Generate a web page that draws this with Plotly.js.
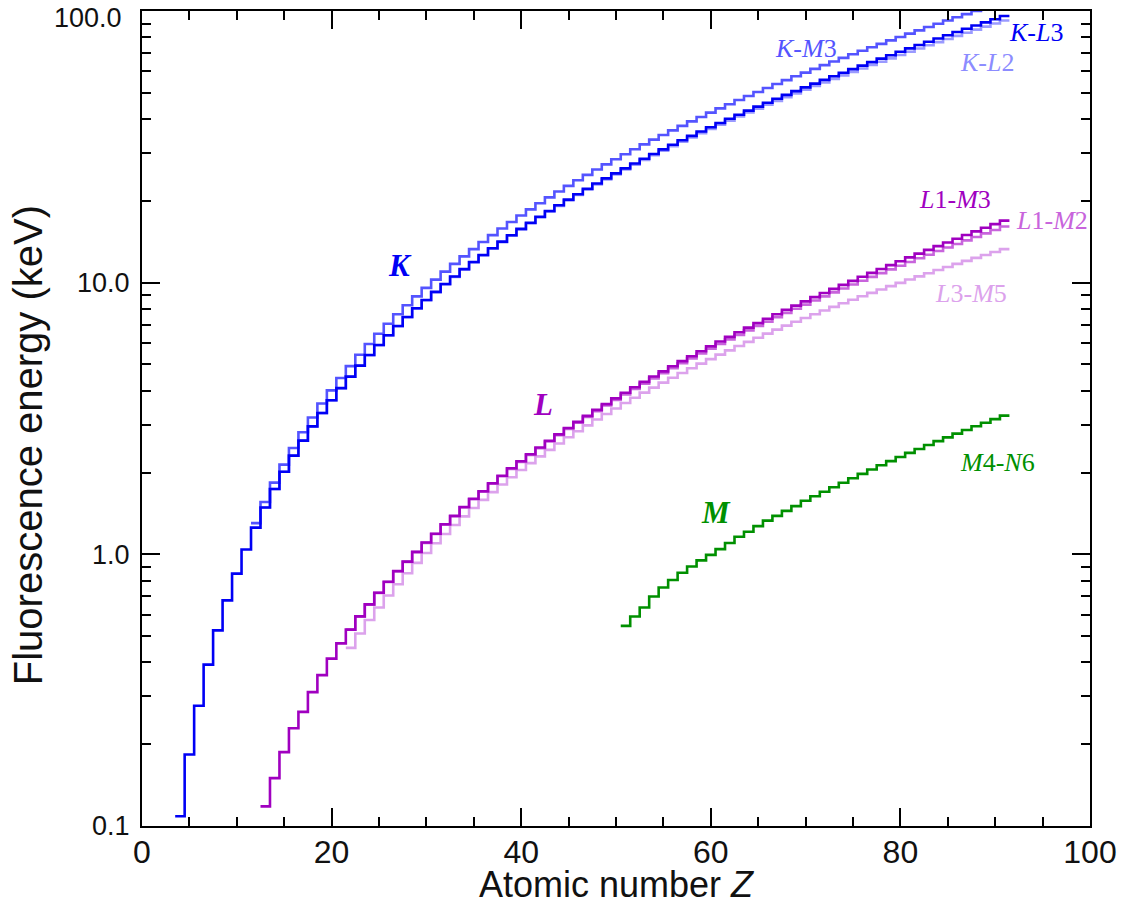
<!DOCTYPE html>
<html>
<head>
<meta charset="utf-8">
<script src="https://cdn.plot.ly/plotly-3.0.1.min.js"></script>
<style>
html,body{margin:0;padding:0;background:#fff;}
#chart{width:1121px;height:907px;}
</style>
</head>
<body>
<div id="chart"></div>
<script>
// ---- Data: fluorescence line energies (keV) versus atomic number Z ----
// Each series starts at its first atomic number and has one value per Z.
var zStartKL3 = 4;
var energyKL3 = [0.1085,0.1833,0.277,0.3924,0.5249,0.6768,0.8486,1.041,1.2536,1.4867,
  1.740,2.0137,2.3078,2.6224,2.9577,3.3138,3.6917,4.0906,4.5108,4.9522,
  5.4147,5.8988,6.4038,6.9303,7.4782,8.0478,8.6389,9.2517,9.8864,10.5437,
  11.2224,11.9242,12.649,13.3953,14.165,14.9584,15.7751,16.6151,17.4793,18.3671,
  19.2792,20.2161,21.1771,22.1629,23.1736,24.2097,25.2713,26.3591,27.4723,28.612,
  29.779,30.9728,32.1936,33.4418,34.7197,36.0263,37.361,38.7247,40.1181,41.5422,
  42.9962,44.4816,45.9984,47.5467,49.1277,50.7416,52.3889,54.0698,55.7902,57.532,
  59.3182,61.1403,63.0005,64.8956,66.832,68.8037,70.819,72.8715,74.9694,77.1079,
  79.29,81.52,83.78,86.10,88.47,90.884,93.35,95.868];

var zStartKL2 = 13;
var energyKL2 = [1.4863,1.7394,2.0127,2.3066,2.6208,2.9556,3.3111,3.6881,4.0861,4.5049,
  4.9446,5.4055,5.8877,6.3908,6.9153,7.4609,8.0278,8.6158,9.2248,9.8553,
  10.508,11.1814,11.8776,12.598,13.3358,14.0979,14.8829,15.6909,16.521,17.3743,
  18.2508,19.1504,20.0737,21.0201,21.9903,22.9841,24.002,25.044,26.1108,27.2017,
  28.3172,29.458,30.6251,31.8171,33.0341,34.2789,35.5502,36.8474,38.1712,39.5224,
  40.9019,42.3089,43.7441,45.2078,46.6997,48.2211,49.7726,51.354,52.965,54.6114,
  56.277,57.9817,59.7179,61.4867,63.2867,65.112,66.9895,68.895,70.8319,72.8042,
  74.8148,76.862,78.95,81.07,83.23,85.43,87.67,89.953,92.287];

var zStartKM3 = 12;
var energyKM3 = [1.3022,1.5575,1.8359,2.1391,2.464,2.8156,3.1905,3.5896,4.0127,4.4605,
  4.9318,5.4273,5.9467,6.4905,7.058,7.6494,8.2647,8.9053,9.572,10.2642,
  10.9821,11.7262,12.4959,13.2914,14.112,14.9613,15.8357,16.7378,17.6678,18.6225,
  19.6083,20.619,21.6568,22.7236,23.8187,24.9424,26.0955,27.2759,28.486,29.7256,
  30.9957,32.2947,33.624,34.9869,36.3782,37.801,39.2573,40.7484,42.2713,43.826,
  45.413,47.0379,48.697,50.382,52.119,53.877,55.681,57.517,59.37,61.283,
  63.234,65.223,67.2443,69.31,71.413,73.5608,75.748,77.984,80.253,82.576,
  84.936,87.343,89.80,92.30,94.87,97.47,100.13,102.85,105.609,108.427];

var zStartL1M3 = 13;
var energyL1M3 = [0.118,0.150,0.187,0.229,0.263,0.311,0.359,0.413,0.470,0.528,
  0.591,0.654,0.722,0.792,0.867,0.940,1.021,1.105,1.191,1.290,
  1.385,1.494,1.601,1.707,1.827,1.947,2.074,2.202,2.335,2.472,
  2.618,2.763,2.916,3.073,3.234,3.402,3.573,3.750,3.932,4.120,
  4.313,4.512,4.717,4.927,5.143,5.363,5.593,5.829,6.071,6.317,
  6.571,6.831,7.097,7.370,7.653,7.940,8.231,8.537,8.847,9.163,
  9.488,9.819,10.159,10.511,10.868,11.234,11.610,11.992,12.390,12.794,
  13.211,13.638,14.067,14.511,14.976,15.445,15.931,16.426,16.931];

var zStartL1M2 = 22;
var energyL1M2 = [0.528,0.591,0.653,0.721,0.791,0.866,0.938,1.019,1.102,1.188,
  1.286,1.381,1.489,1.595,1.700,1.819,1.938,2.064,2.190,2.322,
  2.457,2.601,2.744,2.895,3.050,3.202,3.366,3.532,3.704,3.881,
  4.064,4.251,4.443,4.642,4.845,5.053,5.266,5.487,5.715,5.947,
  6.184,6.427,6.677,6.932,7.192,7.463,7.737,8.015,8.306,8.601,
  8.902,9.210,9.524,9.843,10.172,10.505,10.847,11.196,11.552,11.922,
  12.296,12.681,13.076,13.472,13.881,14.310,14.739,15.185,15.639,16.101];

var zStartL3M5 = 22;
var energyL3M5 = [0.4522,0.5113,0.5728,0.6374,0.705,0.7762,0.8515,0.9297,1.0117,1.0979,
  1.188,1.282,1.3791,1.4804,1.586,1.6941,1.8066,1.9226,2.0424,2.1659,
  2.2932,2.424,2.5585,2.6967,2.8386,2.9843,3.1337,3.2869,3.4439,3.6047,
  3.7694,3.9376,4.1099,4.2865,4.4663,4.651,4.8402,5.0337,5.2304,5.4325,
  5.6361,5.8457,6.0572,6.2728,6.4952,6.7198,6.9487,7.1799,7.4156,7.6555,
  7.899,8.1461,8.3976,8.6525,8.9117,9.1751,9.4423,9.7133,9.9888,10.2685,
  10.5515,10.8388,11.1308,11.4268,11.727,12.0313,12.3397,12.652,12.9687,13.2907];

var zStartM4N6 = 51;
var energyM4N6 = [0.545,0.590,0.637,0.699,0.755,0.804,0.855,0.902,0.950,0.995,
  1.045,1.100,1.160,1.210,1.270,1.330,1.385,1.445,1.505,1.575,
  1.635,1.700,1.765,1.835,1.906,1.978,2.053,2.127,2.204,2.282,
  2.362,2.443,2.526,2.610,2.695,2.782,2.870,2.960,3.052,3.145,3.240];

// Axis tick labels
var xTickVals = [0, 20, 40, 60, 80, 100];
var xTickText = ['0', '20', '40', '60', '80', '100'];
var yTickVals = [0.1, 1, 10, 100];
var yTickText = ['0.1', '1.0', '10.0', '100.0'];
var yMinorVals = [0.2,0.3,0.4,0.5,0.6,0.7,0.8,0.9,2,3,4,5,6,7,8,9,20,30,40,50,60,70,80,90];
var xTitle = 'Atomic number <i>Z</i>';
var yTitle = 'Fluorescence energy (keV)';

// Line labels
var labelText = ['<i>K</i>-<i>M</i>3', '<i>K</i>-<i>L</i>3', '<i>K</i>-<i>L</i>2',
  '<i>L</i>1-<i>M</i>3', '<i>L</i>1-<i>M</i>2', '<i>L</i>3-<i>M</i>5', '<i>M</i>4-<i>N</i>6'];
var labelX = [70.0, 94.3, 89.1, 85.8, 96.0, 87.4, 90.2];
var labelY = [73.0, 83.5, 64.5, 20.2, 17.0, 9.1, 2.18];
var shellText = ['K', 'L', 'M'];
var shellX = [27.2, 42.3, 60.6];
var shellY = [11.6, 3.56, 1.43];

// Colours
var colKL3 = '#0000f5', colKM3 = '#5454ff', colKL2 = '#9a9aff';
var colL1M3 = '#a000c0', colL1M2 = '#c864dc', colL3M5 = '#dca2ec';
var colM = '#009000';
var labelColors = [colKM3, colKL3, '#8c8cff', colL1M3, colL1M2, colL3M5, colM];
var shellColors = [colKL3, colL1M3, colM];

// Build histogram-style steps: each value spans Z-0.5 .. Z+0.5
function stepTrace(zStart, vals, color, name) {
  var xs = [], ys = [];
  for (var i = 0; i < vals.length; i++) {
    var z = zStart + i;
    xs.push(z - 0.5, z + 0.5);
    ys.push(vals[i], vals[i]);
  }
  return {x: xs, y: ys, type: 'scatter', mode: 'lines', name: name,
    line: {color: color, width: 2.6, shape: 'linear'}, hoverinfo: 'skip'};
}

var traces = [
  stepTrace(zStartKL2, energyKL2, colKL2, 'K-L2'),
  stepTrace(zStartKM3, energyKM3, colKM3, 'K-M3'),
  stepTrace(zStartKL3, energyKL3, colKL3, 'K-L3'),
  stepTrace(zStartL3M5, energyL3M5, colL3M5, 'L3-M5'),
  stepTrace(zStartL1M2, energyL1M2, colL1M2, 'L1-M2'),
  stepTrace(zStartL1M3, energyL1M3, colL1M3, 'L1-M3'),
  stepTrace(zStartM4N6, energyM4N6, colM, 'M4-N6')
];

var axisFont = 'Liberation Sans, Arial, Helvetica, sans-serif';
var annotations = [];
for (var i = 0; i < labelText.length; i++) {
  annotations.push({x: labelX[i], y: Math.log10(labelY[i]), xref: 'x', yref: 'y',
    text: labelText[i], showarrow: false,
    font: {family: 'Liberation Serif, Times New Roman, serif', size: 26, color: labelColors[i]}});
}
for (var j = 0; j < shellText.length; j++) {
  annotations.push({x: shellX[j], y: Math.log10(shellY[j]), xref: 'x', yref: 'y',
    text: '<b><i>' + shellText[j] + '</i></b>', showarrow: false,
    font: {family: 'Liberation Serif, Times New Roman, serif', size: 31, color: shellColors[j]}});
}
// top tick label (nudged inside the page, as in the original)
annotations.push({xref: 'paper', yref: 'paper', x: -0.0195, y: 0.9915, xanchor: 'right', yanchor: 'middle',
  text: yTickText[3], showarrow: false, font: {family: axisFont, size: 27, color: '#111'}});
// y-axis title
annotations.push({xref: 'paper', yref: 'paper', x: -0.12, y: 0.4675, xanchor: 'center', yanchor: 'middle',
  text: yTitle, textangle: -90, showarrow: false, font: {family: axisFont, size: 40, color: '#111'}});
// x-axis title
annotations.push({xref: 'paper', yref: 'paper', x: 0.5, y: -0.0992, xanchor: 'center', yanchor: 'bottom',
  text: xTitle, showarrow: false, font: {family: axisFont, size: 36, color: '#111'}});

var yTickTextShown = yTickText.slice(0, 3).concat(['']);

var layout = {
  width: 1121, height: 907,
  margin: {l: 142, r: 31, t: 11, b: 81, pad: 0},
  paper_bgcolor: '#ffffff', plot_bgcolor: '#ffffff',
  showlegend: false,
  xaxis: {
    range: [0, 100], tickmode: 'array', tickvals: xTickVals, ticktext: xTickText,
    ticks: 'inside', ticklen: 18, tickwidth: 2, tickcolor: '#000', ticklabelstandoff: -3,
    minor: {dtick: 5, tick0: 0, ticks: 'inside', ticklen: 9, tickwidth: 2, tickcolor: '#000'},
    showline: true, linecolor: '#000', linewidth: 2, mirror: 'allticks',
    showgrid: false, zeroline: false,
    tickfont: {family: axisFont, size: 32, color: '#111'}
  },
  yaxis: {
    type: 'log', range: [-1.0003, 2.0003], tickmode: 'array', tickvals: yTickVals, ticktext: yTickTextShown,
    ticks: 'inside', ticklen: 18, tickwidth: 2, tickcolor: '#000', ticklabelstandoff: 5,
    minor: {tickmode: 'array', tickvals: yMinorVals, ticks: 'inside', ticklen: 9, tickwidth: 2, tickcolor: '#000'},
    showline: true, linecolor: '#000', linewidth: 2, mirror: 'allticks',
    showgrid: false, zeroline: false,
    tickfont: {family: axisFont, size: 27, color: '#111'}
  },
  annotations: annotations
};

Plotly.newPlot('chart', traces, layout, {staticPlot: true, displayModeBar: false});
</script>
</body>
</html>
